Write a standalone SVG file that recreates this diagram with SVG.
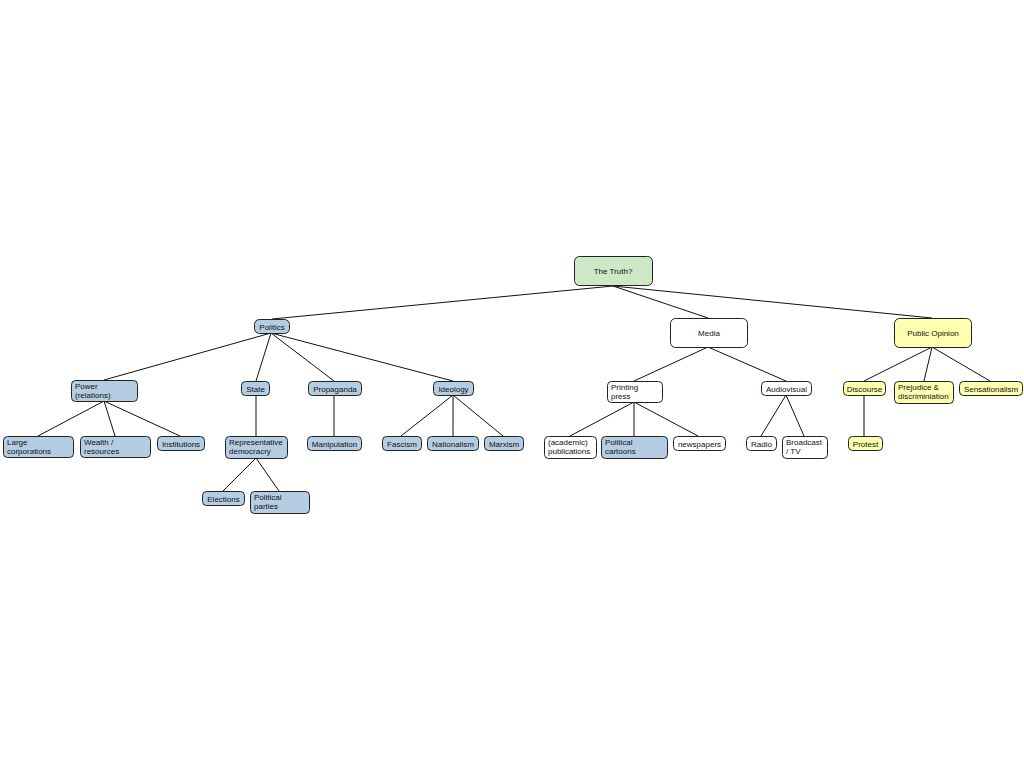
<svg xmlns="http://www.w3.org/2000/svg" width="1024" height="768" viewBox="0 0 1024 768">
<style>
.n rect{stroke:#222;stroke-width:1}
.b{fill:#b4cde3}
.w{fill:#fff}
.y{fill:#ffffb0}
.g{fill:#cce8c4}
text{font-family:"Liberation Sans",Arial,sans-serif;font-size:8px;fill:#111}
.c{text-anchor:middle}
#edges line{stroke:#111;stroke-width:1}
</style>
<rect width="1024" height="768" fill="#fff"/>
<g id="edges">
<line x1="613" y1="286" x2="272" y2="319"/>
<line x1="613" y1="286" x2="708" y2="318"/>
<line x1="613" y1="286" x2="932" y2="318"/>
<line x1="271" y1="333" x2="104" y2="380"/>
<line x1="271" y1="333" x2="256" y2="381"/>
<line x1="271" y1="333" x2="334" y2="381"/>
<line x1="271" y1="333" x2="453" y2="381"/>
<line x1="104" y1="401" x2="38" y2="436"/>
<line x1="104" y1="401" x2="115" y2="436"/>
<line x1="104" y1="401" x2="180" y2="436"/>
<line x1="256" y1="395" x2="256" y2="436"/>
<line x1="256" y1="458" x2="223" y2="491"/>
<line x1="256" y1="458" x2="279" y2="491"/>
<line x1="334" y1="395" x2="334" y2="436"/>
<line x1="453" y1="395" x2="401" y2="436"/>
<line x1="453" y1="395" x2="453" y2="436"/>
<line x1="453" y1="395" x2="503" y2="436"/>
<line x1="708" y1="347" x2="634" y2="381"/>
<line x1="708" y1="347" x2="786" y2="381"/>
<line x1="634" y1="402" x2="570" y2="436"/>
<line x1="634" y1="402" x2="634" y2="436"/>
<line x1="634" y1="402" x2="698" y2="436"/>
<line x1="786" y1="395" x2="761" y2="436"/>
<line x1="786" y1="395" x2="804" y2="436"/>
<line x1="932" y1="347" x2="864" y2="381"/>
<line x1="932" y1="347" x2="924" y2="381"/>
<line x1="932" y1="347" x2="990" y2="381"/>
<line x1="864" y1="395" x2="864" y2="436" style="stroke:#555;stroke-width:1.5"/>
</g>
<g class="n">
<g id="truth"><rect class="g" x="574.5" y="256.5" width="78" height="29" rx="5"/><text class="c" x="613" y="274">The Truth?</text></g>
<g id="media"><rect class="w" x="670.5" y="318.5" width="77" height="29" rx="5"/><text class="c" x="709" y="336">Media</text></g>
<g id="publicopinion"><rect class="y" x="894.5" y="318.5" width="77" height="29" rx="5"/><text class="c" x="933" y="336">Public Opinion</text></g>
<g id="politics"><rect class="b" x="254.5" y="319.5" width="35" height="14" rx="5"/><text class="c" x="272" y="330">Politics</text></g>
<g id="power"><rect class="b" x="71.5" y="380.5" width="66" height="21" rx="4"/><text x="75" y="389">Power</text><text x="75" y="398">(relations)</text></g>
<g id="state"><rect class="b" x="241.5" y="381.5" width="28" height="14" rx="4"/><text class="c" x="255.5" y="392">State</text></g>
<g id="propaganda"><rect class="b" x="308.5" y="381.5" width="53" height="14" rx="4"/><text class="c" x="335" y="392">Propaganda</text></g>
<g id="ideology"><rect class="b" x="433.5" y="381.5" width="40" height="14" rx="4"/><text class="c" x="453.5" y="392">Ideology</text></g>
<g id="largecorp"><rect class="b" x="3.5" y="436.5" width="70" height="21" rx="4"/><text x="7" y="445">Large</text><text x="7" y="454">corporations</text></g>
<g id="wealth"><rect class="b" x="80.5" y="436.5" width="70" height="21" rx="4"/><text x="84" y="445">Wealth /</text><text x="84" y="454">resources</text></g>
<g id="institutions"><rect class="b" x="157.5" y="436.5" width="47" height="14" rx="4"/><text class="c" x="181" y="447">Institutions</text></g>
<g id="repdem"><rect class="b" x="225.5" y="436.5" width="62" height="22" rx="4"/><text x="229" y="445">Representative</text><text x="229" y="454">democracry</text></g>
<g id="elections"><rect class="b" x="202.5" y="491.5" width="42" height="14" rx="4"/><text class="c" x="223.5" y="502">Elections</text></g>
<g id="parties"><rect class="b" x="250.5" y="491.5" width="59" height="22" rx="4"/><text x="254" y="500">Political</text><text x="254" y="509">parties</text></g>
<g id="manipulation"><rect class="b" x="307.5" y="436.5" width="54" height="14" rx="4"/><text class="c" x="334.5" y="447">Manipulation</text></g>
<g id="fascism"><rect class="b" x="382.5" y="436.5" width="39" height="14" rx="4"/><text class="c" x="402" y="447">Fascism</text></g>
<g id="nationalism"><rect class="b" x="427.5" y="436.5" width="51" height="14" rx="4"/><text class="c" x="453" y="447">Nationalism</text></g>
<g id="marxism"><rect class="b" x="484.5" y="436.5" width="39" height="14" rx="4"/><text class="c" x="504" y="447">Marxism</text></g>
<g id="printing"><rect class="w" x="607.5" y="381.5" width="55" height="21" rx="4"/><text x="611" y="390">Printing</text><text x="611" y="399">press</text></g>
<g id="audiovisual"><rect class="w" x="761.5" y="381.5" width="50" height="14" rx="4"/><text class="c" x="786.5" y="392">Audiovisual</text></g>
<g id="academic"><rect class="w" x="544.5" y="436.5" width="52" height="22" rx="4"/><text x="548" y="445">(academic)</text><text x="548" y="454">publications</text></g>
<g id="cartoons"><rect class="b" x="601.5" y="436.5" width="66" height="22" rx="4"/><text x="605" y="445">Political</text><text x="605" y="454">cartoons</text></g>
<g id="newspapers"><rect class="w" x="673.5" y="436.5" width="52" height="14" rx="4"/><text class="c" x="699.5" y="447">newspapers</text></g>
<g id="radio"><rect class="w" x="746.5" y="436.5" width="30" height="14" rx="4"/><text class="c" x="761.5" y="447">Radio</text></g>
<g id="broadcast"><rect class="w" x="782.5" y="436.5" width="45" height="22" rx="4"/><text x="786" y="445">Broadcast</text><text x="786" y="454">/ TV</text></g>
<g id="discourse"><rect class="y" x="843.5" y="381.5" width="42" height="14" rx="4"/><text class="c" x="864.5" y="392">Discourse</text></g>
<g id="prejudice"><rect class="y" x="894.5" y="381.5" width="59" height="22" rx="4"/><text x="898" y="390">Prejudice &amp;</text><text x="898" y="399">discriminiation</text></g>
<g id="sensationalism"><rect class="y" x="959.5" y="381.5" width="63" height="14" rx="4"/><text class="c" x="991" y="392">Sensationalism</text></g>
<g id="protest"><rect class="y" x="848.5" y="436.5" width="34" height="14" rx="4"/><text class="c" x="865.5" y="447">Protest</text></g>
</g>
</svg>
